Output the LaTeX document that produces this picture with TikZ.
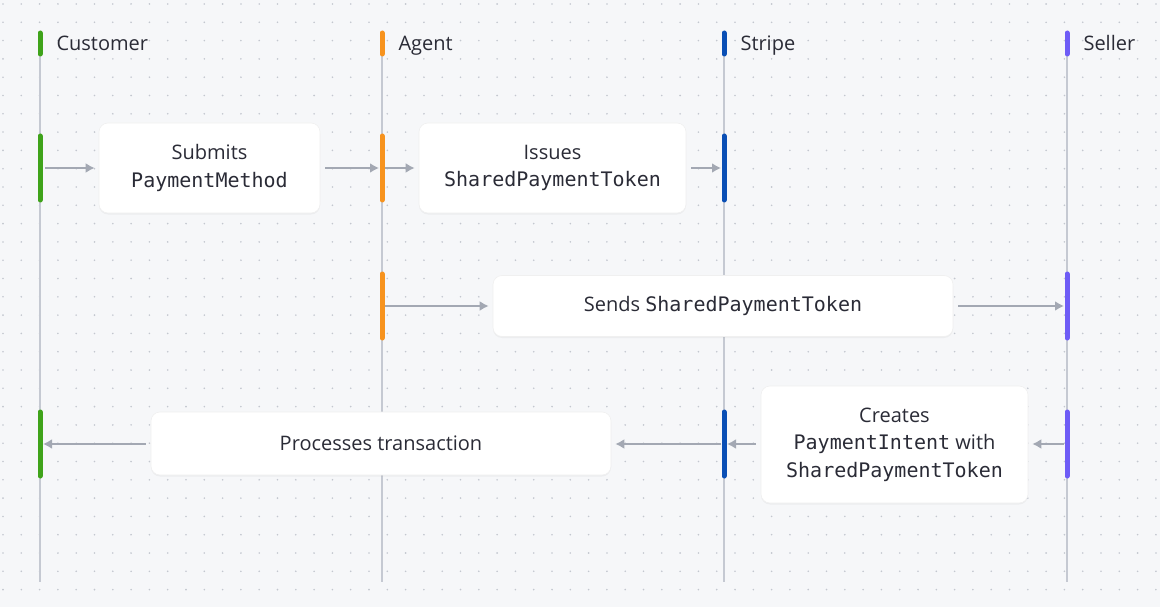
\documentclass[tikz,border=0pt]{standalone}
\usepackage{fontspec}
\setmainfont{Open Sans}
\setmonofont{DejaVu Sans Mono}
\usetikzlibrary{shadows, arrows.meta}
\definecolor{bg}{HTML}{F6F7F9}
\definecolor{dotc}{HTML}{C3C7CF}
\definecolor{lifec}{HTML}{C5C9D2}
\definecolor{arrc}{HTML}{A3A8B3}
\definecolor{txt}{HTML}{2A2B36}
\definecolor{cgreen}{HTML}{3FA31A}
\definecolor{corange}{HTML}{F7931E}
\definecolor{cblue}{HTML}{0A4FB5}
\definecolor{cviolet}{HTML}{6E5CF6}
\tikzset{
  box/.style={rectangle, rounded corners=9pt, fill=white, draw=black!6, line width=0.6pt,
    drop shadow={shadow xshift=0pt, shadow yshift=-1.5pt, opacity=0.08},
    text=txt, align=center, font=\fontsize{20}{27.5}\selectfont, inner sep=0pt},
  line/.style={arrc, line width=2pt, -{Latex[length=9pt,width=10pt]}},
  life/.style={lifec, line width=2pt},
  bar/.style={line width=5pt, line cap=round},
  head/.style={anchor=base west, text=txt, font=\fontsize{20}{24}\selectfont}
}
\begin{document}
\begin{tikzpicture}[x=1pt, y=-1pt]
\useasboundingbox (0,0) rectangle (1160,607);
\fill[bg] (0,0) rectangle (1160,607);
% dotted background
\foreach \i in {0,...,63} \foreach \j in {0,...,33}
  \fill[dotc] (3+18.3*\i, 4+18.3*\j) circle (0.9pt);
% lanes
\foreach \name/\x/\col/\lab in {cust/40/cgreen/Customer, agent/382/corange/Agent, stripe/724/cblue/Stripe, seller/1067/cviolet/Seller} {
  \coordinate (\name top) at (\x,56);
  \coordinate (\name bot) at (\x,582);
  \draw[life] (\name top) -- (\name bot);
  \draw[bar, \col] (\x,33) -- (\x,54);
  \node[head] (\name lab) at (\x+13,51) {\lab};
}
% activation bars
\foreach \x/\y/\col in {40/168/cgreen, 382/168/corange, 724/168/cblue,
                        382/306/corange, 1067/306/cviolet,
                        40/444/cgreen, 724/444/cblue, 1067/444/cviolet}
  \draw[bar, \col] (\x,\y-32) -- (\x,\y+32);
\coordinate (c1) at (43,168);  \coordinate (a1) at (379,168); \coordinate (a1r) at (385,168); \coordinate (s1) at (721,168);
\coordinate (a2) at (385,306); \coordinate (e2) at (1064,306);
\coordinate (e3) at (1064,444); \coordinate (s3) at (727,444); \coordinate (s3l) at (721,444); \coordinate (c3) at (43,444);
% messages
\node (submit) [box, minimum width=221pt, minimum height=90pt] at (209.5,168) {Submits\\\texttt{PaymentMethod}};
\node (issue) [box, minimum width=267pt, minimum height=90pt] at (552.5,168) {Issues\\\texttt{SharedPaymentToken}};
\node (send) [box, minimum width=460pt, minimum height=61pt] at (723,306) {Sends \texttt{SharedPaymentToken}};
\node (create) [box, minimum width=267pt, minimum height=117pt] at (894.5,444.5) {Creates\\\texttt{PaymentIntent} with\\\texttt{SharedPaymentToken}};
\node (process) [box, minimum width=460pt, minimum height=63pt] at (381,443.5) {Processes transaction};

\draw [line] ([xshift=2pt]c1) -- ([xshift=-4pt]submit.west |- c1);
\draw [line] ([xshift=5pt]submit.east |- a1) -- (a1);
\draw [line] (a1r) -- ([xshift=-4pt]issue.west |- a1r);
\draw [line] ([xshift=5pt]issue.east |- s1) -- (s1);
\draw [line] (a2) -- ([xshift=-4pt]send.west |- a2);
\draw [line] ([xshift=5pt]send.east |- e2) -- (e2);
\draw [line] (e3) -- ([xshift=4pt]create.east |- e3);
\draw [line] ([xshift=-5pt]create.west |- s3) -- (s3);
\draw [line] (s3l) -- ([xshift=4pt]process.east |- s3l);
\draw [line] ([xshift=-5pt]process.west |- c3) -- (c3);
\end{tikzpicture}
\end{document}
